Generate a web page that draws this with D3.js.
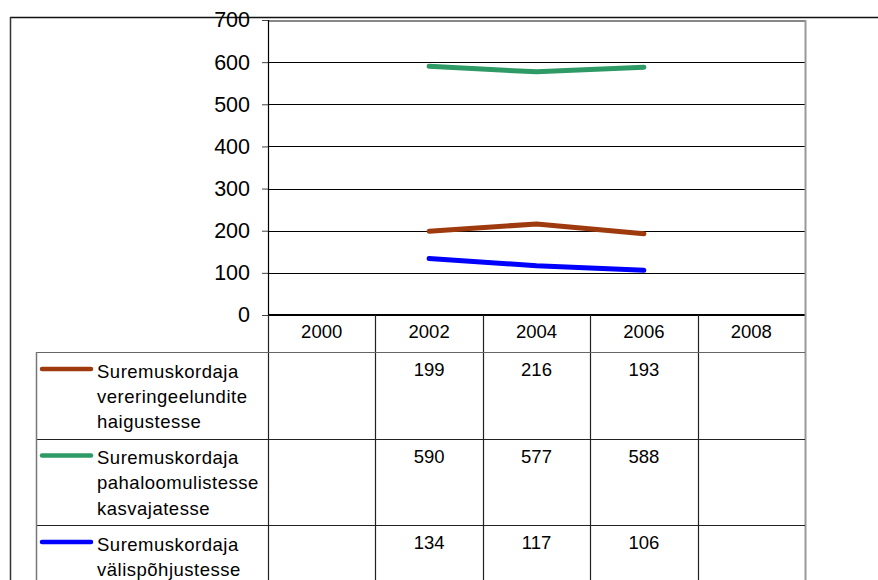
<!DOCTYPE html>
<html>
<head>
<meta charset="utf-8">
<script src="https://cdn.jsdelivr.net/npm/d3@7"></script>
<style>
  html, body { margin: 0; padding: 0; background: #fff; }
  svg { display: block; font-family: "Liberation Sans", Arial, Helvetica, sans-serif; }
</style>
</head>
<body>
<svg id="chart" width="878" height="580"></svg>
<script>
const categories = ["2000", "2002", "2004", "2006", "2008"];
const seriesNames = [
  ["Suremuskordaja", "vereringeelundite", "haigustesse"],
  ["Suremuskordaja", "pahaloomulistesse", "kasvajatesse"],
  ["Suremuskordaja", "välispõhjustesse"]
];
const circulatoryValues = [null, 199, 216, 193, null];
const cancerValues = [null, 590, 577, 588, null];
const externalValues = [null, 134, 117, 106, null];
const seriesColors = ["#9E3A0E", "#2E9A66", "#0000FF"];
const yTicks = [0, 100, 200, 300, 400, 500, 600, 700];

const allSeries = [circulatoryValues, cancerValues, externalValues];

const svg = d3.select("#chart");
svg.append("rect").attr("width", 878).attr("height", 580).attr("fill", "#fff");

const plotLeft = 268, plotRight = 805, plotTop = 20, plotBottom = 315;
const x = d3.scaleBand().domain(categories).range([plotLeft, plotRight]).padding(0);
const y = d3.scaleLinear().domain([0, 700]).range([plotBottom, plotTop]);

// outer frame
svg.append("line").attr("x1", 10).attr("x2", 878).attr("y1", 17.5).attr("y2", 17.5)
  .attr("stroke", "#111").attr("stroke-width", 1.5);
svg.append("line").attr("x1", 10.5).attr("x2", 10.5).attr("y1", 17).attr("y2", 580)
  .attr("stroke", "#333").attr("stroke-width", 1.5);

// gridlines
svg.append("g").selectAll("line").data(yTicks.filter(t => t > 0 && t < 700)).join("line")
  .attr("x1", plotLeft).attr("x2", plotRight)
  .attr("y1", d => Math.round(y(d)) + 0.5).attr("y2", d => Math.round(y(d)) + 0.5)
  .attr("stroke", "#000").attr("stroke-width", 1);

// plot border top & right (gray)
svg.append("line").attr("x1", plotLeft).attr("x2", plotRight + 1).attr("y1", plotTop + 1).attr("y2", plotTop + 1)
  .attr("stroke", "#888").attr("stroke-width", 2);

// y axis
const yAxis = d3.axisLeft(y).tickValues(yTicks).tickSize(6).tickPadding(12).tickFormat(d3.format("d"));
const gy = svg.append("g").attr("transform", `translate(${plotLeft},0)`).call(yAxis);
gy.select(".domain").remove();
gy.selectAll(".tick line").attr("stroke", "#444");
gy.selectAll(".tick text").attr("font-size", "21.5px").attr("fill", "#000")
  .attr("font-family", "Liberation Sans, Arial, sans-serif");
svg.append("line").attr("x1", plotLeft + 0.5).attr("x2", plotLeft + 0.5).attr("y1", plotTop).attr("y2", plotBottom)
  .attr("stroke", "#000").attr("stroke-width", 1.2);

// series lines
const line = d3.line()
  .defined(d => d != null)
  .x((d, i) => x(categories[i]) + x.bandwidth() / 2)
  .y(d => y(d));
allSeries.forEach((vals, si) => {
  svg.append("path").datum(vals)
    .attr("d", line)
    .attr("fill", "none")
    .attr("stroke", seriesColors[si])
    .attr("stroke-width", 5)
    .attr("stroke-linecap", "round")
    .attr("stroke-linejoin", "round");
});

// table
const headerBottom = 352;
const rowHeight = 86.5;
const tableLeft = 36.5;
const tableBottom = 580;

// x-axis baseline
svg.append("line").attr("x1", plotLeft).attr("x2", plotRight).attr("y1", plotBottom).attr("y2", plotBottom)
  .attr("stroke", "#000").attr("stroke-width", 2.2);

// vertical band boundaries
const bounds = categories.map(c => x(c)).concat([plotRight]);
svg.append("g").selectAll("line").data(bounds.slice(0, -1)).join("line")
  .attr("x1", d => Math.round(d) + 0.5).attr("x2", d => Math.round(d) + 0.5)
  .attr("y1", plotBottom).attr("y2", tableBottom)
  .attr("stroke", "#222").attr("stroke-width", 1.2);
// right border gray (plot + table)
svg.append("line").attr("x1", plotRight + 0.5).attr("x2", plotRight + 0.5).attr("y1", plotTop).attr("y2", tableBottom)
  .attr("stroke", "#999").attr("stroke-width", 2);

// horizontal table lines
const rowTops = allSeries.map((s, i) => headerBottom + i * rowHeight);
svg.append("g").selectAll("line").data(rowTops).join("line")
  .attr("x1", tableLeft).attr("x2", plotRight)
  .attr("y1", d => Math.round(d) + 0.5).attr("y2", d => Math.round(d) + 0.5)
  .attr("stroke", (d, i) => i === 0 ? "#666" : "#222").attr("stroke-width", 1.2);
// left border
svg.append("line").attr("x1", tableLeft).attr("x2", tableLeft).attr("y1", headerBottom).attr("y2", tableBottom)
  .attr("stroke", "#777").attr("stroke-width", 1.5);

// header labels
svg.append("g").selectAll("text").data(categories).join("text")
  .attr("x", d => x(d) + x.bandwidth() / 2)
  .attr("y", 338)
  .attr("text-anchor", "middle")
  .attr("font-size", "18.5px")
  .attr("fill", "#000")
  .text(d => d);

// legend + values
allSeries.forEach((vals, si) => {
  const top = rowTops[si];
  svg.append("line").attr("x1", 42).attr("x2", 91).attr("y1", top + 17).attr("y2", top + 17)
    .attr("stroke", seriesColors[si]).attr("stroke-width", 4.5).attr("stroke-linecap", "round");
  const t = svg.append("text").attr("x", 97).attr("y", top + 25.5)
    .attr("font-size", "18.5px").attr("letter-spacing", "0.5px").attr("fill", "#000");
  seriesNames[si].forEach((ln, li) => {
    t.append("tspan").attr("x", 97).attr("dy", li === 0 ? 0 : 25.3).text(ln);
  });
  svg.append("g").selectAll("text").data(vals.map((v, i) => ({ v, c: categories[i] })).filter(d => d.v != null))
    .join("text")
    .attr("x", d => x(d.c) + x.bandwidth() / 2)
    .attr("y", top + 24)
    .attr("text-anchor", "middle")
    .attr("font-size", "18.5px")
    .attr("fill", "#000")
    .text(d => d.v);
});
</script>
</body>
</html>
